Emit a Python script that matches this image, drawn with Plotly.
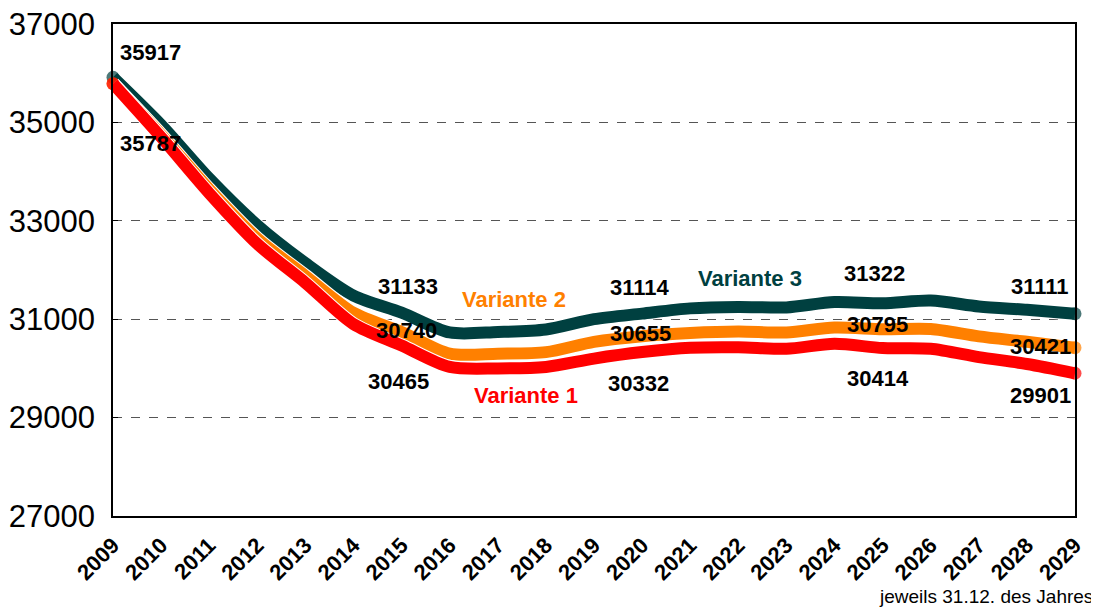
import plotly.graph_objects as go

years = list(range(2009, 2030))
year_labels = [str(y) for y in years]

variante1 = [35787, 34700, 33560, 32530, 31740, 30900, 30465, 30030, 30000, 30030, 30200,
             30332, 30420, 30430, 30400, 30500, 30414, 30400, 30230, 30090, 29901]
variante2 = [35787, 34750, 33640, 32640, 31880, 31130, 30740, 30300, 30300, 30330, 30540,
             30655, 30720, 30750, 30730, 30830, 30795, 30800, 30650, 30540, 30421]
variante3 = [35917, 34950, 33860, 32910, 32140, 31480, 31133, 30730, 30740, 30790, 31000,
             31114, 31220, 31250, 31240, 31350, 31322, 31380, 31260, 31190, 31111]

colors = {"Variante 1": "#FF0000", "Variante 2": "#FF8000", "Variante 3": "#004040"}
data = {"Variante 1": variante1, "Variante 2": variante2, "Variante 3": variante3}

fig = go.Figure()
for name in ["Variante 3", "Variante 2", "Variante 1"]:
    vals = data[name]
    sizes = [13 if i in (0, len(vals) - 1) else 0 for i in range(len(vals))]
    fig.add_trace(go.Scatter(x=years, y=vals, mode="lines",
                             line=dict(color="white", width=14, shape="spline", smoothing=0.8),
                             hoverinfo="skip", showlegend=False))
    fig.add_trace(go.Scatter(x=years, y=vals, mode="lines+markers", name=name,
                             line=dict(color=colors[name], width=12, shape="spline", smoothing=0.8),
                             marker=dict(size=sizes, color=colors[name], line=dict(width=0)),
                             cliponaxis=False, showlegend=False))

# data labels: (series, year index, xshift, yshift)
label_spec = [
    ("Variante 3", 0, 37, 25), ("Variante 1", 0, 37, -60),
    ("Variante 3", 6, 6, 26), ("Variante 2", 6, 5, 1), ("Variante 1", 6, -3, -36),
    ("Variante 3", 11, -2, 26), ("Variante 2", 11, -2, 3), ("Variante 1", 11, -4, -31),
    ("Variante 3", 16, -8, 30), ("Variante 2", 16, -5, 5), ("Variante 1", 16, -5, -30),
    ("Variante 3", 20, -35, 27), ("Variante 2", 20, -35, 1), ("Variante 1", 20, -35, -22),
]
for name, idx, xs, ys in label_spec:
    v = data[name][idx]
    fig.add_annotation(x=years[idx], y=v, text=f"<b>{v}</b>", showarrow=False,
                       xshift=xs, yshift=ys,
                       font=dict(family="Liberation Sans, Arial", size=22, color="black"))

# series name labels: (series, year index, xshift, yshift)
name_spec = [("Variante 2", 8, 16, 54), ("Variante 1", 8, 28, -27), ("Variante 3", 13, 12, 28)]
for name, idx, xs, ys in name_spec:
    v = data[name][idx]
    fig.add_annotation(x=years[idx], y=v, text=f"<b>{name}</b>", showarrow=False,
                       xshift=xs, yshift=ys,
                       font=dict(family="Liberation Sans, Arial", size=22, color=colors[name]))

fig.add_annotation(xref="paper", yref="paper", x=1.0208, y=-0.1646, xanchor="right", yanchor="middle",
                   text="jeweils 31.12. des Jahres", showarrow=False,
                   font=dict(family="Liberation Sans, Arial", size=19, color="black"))

# page body has an 8px default margin, so the figure is 8px smaller on each axis
fig.update_layout(
    width=1091, height=599,
    margin=dict(l=105, r=24, t=16, b=91),
    paper_bgcolor="white", plot_bgcolor="white",
    showlegend=False,
    xaxis=dict(range=[2009, 2029], tickmode="array", tickvals=years,
               ticktext=[f"<b>{t}</b>" for t in year_labels], tickangle=-45,
               tickfont=dict(family="Liberation Sans, Arial", size=22, color="black"),
               showgrid=False, zeroline=False, showline=True, linecolor="black", linewidth=1.5,
               mirror=True, ticks="", ticklabelstandoff=6, automargin=False),
    yaxis=dict(range=[27000, 37000], tickmode="array", tickvals=[27000, 29000, 31000, 33000, 35000, 37000],
               ticktext=["27000", "29000", "31000", "33000", "35000", "37000"],
               tickfont=dict(family="Liberation Sans, Arial", size=31, color="black"),
               showgrid=True, gridcolor="#555555", griddash="dash", gridwidth=1,
               zeroline=False, showline=True, linecolor="black", linewidth=1.5, mirror=True,
               ticks="inside", ticklen=5, tickcolor="black", ticklabelstandoff=10,
               ticklabeloverflow="allow", automargin=False),
)

fig.write_html("out.html")
